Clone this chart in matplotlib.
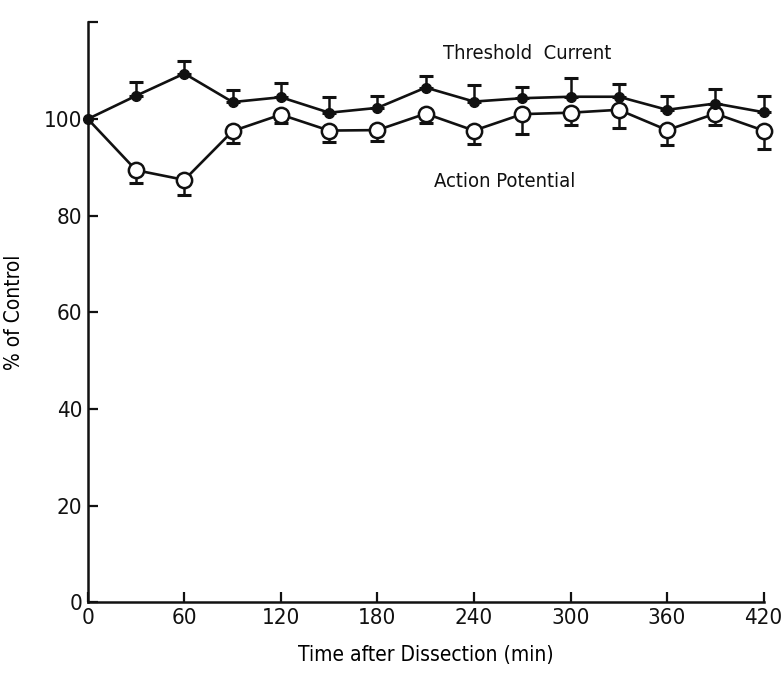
"""Threshold current and action potential vs. time after dissection (% of control)."""
import matplotlib

matplotlib.use("Agg")
import matplotlib.pyplot as plt  # noqa: E402

# data
time_min = [0, 30, 60, 90, 120, 150, 180, 210, 240, 270, 300, 330, 360, 390, 420]
threshold = [100, 104.8, 109.4, 103.5, 104.5, 101.3, 102.3, 106.5, 103.6, 104.3,
             104.6, 104.6, 101.9, 103.2, 101.4]
threshold_err = [0, 2.9, 2.5, 2.5, 3.0, 3.2, 2.4, 2.4, 3.5, 2.3, 3.9, 2.6, 2.9, 3.1, 3.3]
action = [100, 89.4, 87.4, 97.5, 100.9, 97.6, 97.7, 101.1, 97.6, 101.0,
          101.3, 101.9, 97.7, 101.1, 97.6]
action_err = [0, 2.7, 3.2, 2.4, 1.7, 2.3, 2.3, 1.9, 2.7, 4.1, 2.5, 3.8, 3.1, 2.3, 3.8]

x_ticks = [0, 60, 120, 180, 240, 300, 360, 420]
y_ticks = [0, 20, 40, 60, 80, 100, 120]
y_ticklabels = ["0", "20", "40", "60", "80", "100", ""]

INK = "#111111"

plt.rcParams.update({
    "font.family": ["DejaVu Sans"],
    "font.stretch": "condensed",
    "text.color": INK,
    "axes.edgecolor": INK,
    "xtick.color": INK,
    "ytick.color": INK,
})

fig = plt.figure(figsize=(7.84, 6.76), dpi=100)
ax = fig.add_axes([0.112, 0.109, 0.862, 0.858])

n = len(time_min)
# action potential: open circles, error bars below
ax.errorbar(time_min[1:], action[1:], yerr=[action_err[1:], [0] * (n - 1)],
            fmt="none", ecolor=INK, elinewidth=1.8, capsize=5, capthick=2.2,
            clip_on=False, zorder=2)
ax.plot(time_min, action, color=INK, lw=1.9, marker="o", markersize=11,
        markerfacecolor="white", markeredgecolor=INK, markeredgewidth=1.8,
        markevery=list(range(1, n)), clip_on=False, zorder=3)

# threshold current: filled circles, error bars above
ax.errorbar(time_min[1:], threshold[1:], yerr=[[0] * (n - 1), threshold_err[1:]],
            fmt="none", ecolor=INK, elinewidth=1.8, capsize=5, capthick=2.2,
            clip_on=False, zorder=4)
ax.plot(time_min, threshold, color=INK, lw=1.9, marker="o", markersize=7,
        markerfacecolor=INK, markeredgecolor=INK, clip_on=False, zorder=5)

ax.text(221, 113.5, "Threshold  Current", fontsize=14.5, ha="left", va="center")
ax.text(215, 87, "Action Potential", fontsize=14.5, ha="left", va="center")

ax.set_xlim(0, 420)
ax.set_ylim(0, 120)
ax.set_xticks(x_ticks)
ax.set_yticks(y_ticks)
ax.set_yticklabels(y_ticklabels)
ax.tick_params(direction="in", length=7, width=1.6, labelsize=16, pad=4)

for side in ("top", "right"):
    ax.spines[side].set_visible(False)
for side in ("left", "bottom"):
    ax.spines[side].set_linewidth(1.8)

ax.set_xlabel("Time after Dissection (min)", fontsize=15, labelpad=12)
ax.set_ylabel("% of Control", fontsize=15, labelpad=14)

fig.savefig("out.png", dpi=100, facecolor="white")
